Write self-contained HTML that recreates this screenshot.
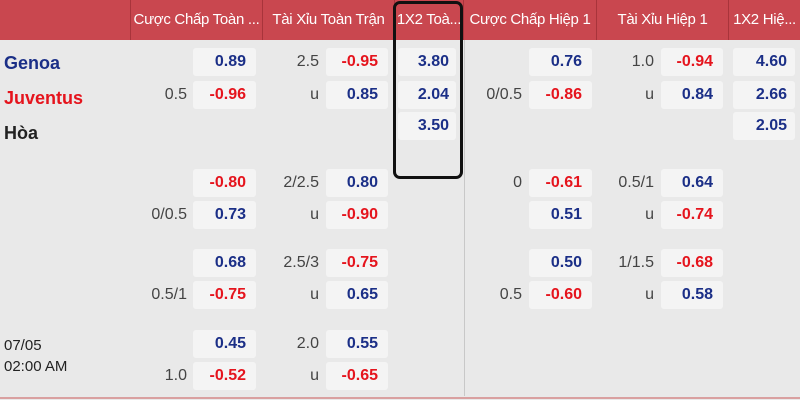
<!DOCTYPE html>
<html><head><meta charset="utf-8"><style>
body{margin:0;width:800px;height:400px;overflow:hidden;background:#e9e9e9;font-family:"Liberation Sans",sans-serif;position:relative}
.hd{position:absolute;top:0;left:0;width:800px;height:40px;background:#c9474f}
.h{position:absolute;top:0;height:40px;line-height:40px;color:#fff;font-size:15px;letter-spacing:-0.3px;text-align:center;white-space:nowrap;overflow:hidden}
.sep{position:absolute;top:0;width:1px;height:40px;background:#a8343b}
.b{position:absolute;height:28px;line-height:28px;background:#f4f4f4;border-radius:3px;font-weight:bold;font-size:16px;text-align:right;box-sizing:border-box;padding-right:10px}
.n{color:#1b2f87}.r{color:#e5141d}
.l{position:absolute;height:28px;line-height:28px;font-size:16px;color:#444;text-align:right}
.t{position:absolute;left:4px;font-weight:bold;font-size:18px}
</style></head><body>
<div class="hd"></div>
<div class="sep" style="left:130px"></div><div class="sep" style="left:262px"></div><div class="sep" style="left:394px"></div><div class="sep" style="left:463px"></div><div class="sep" style="left:596px"></div><div class="sep" style="left:728px"></div>
<div class="h" style="left:131px;width:131px">Cược Chấp Toàn ...</div>
<div class="h" style="left:263px;width:131px">Tài Xỉu Toàn Trận</div>
<div class="h" style="left:395px;width:68px">1X2 Toà...</div>
<div class="h" style="left:464px;width:132px">Cược Chấp Hiệp 1</div>
<div class="h" style="left:597px;width:131px">Tài Xỉu Hiệp 1</div>
<div class="h" style="left:729px;width:71px">1X2 Hiệ...</div>
<div style="position:absolute;left:464px;top:40px;width:1px;height:356px;background:#c8c8c8"></div>
<div style="position:absolute;left:0;top:397px;width:800px;height:2px;background:#d9a0a0"></div>

<div class="t" style="top:53px;color:#1b2f87">Genoa</div>
<div class="t" style="top:88px;color:#e5141d">Juventus</div>
<div class="t" style="top:123px;color:#222">Hòa</div>
<div style="position:absolute;left:4px;top:335px;font-size:15px;color:#222;line-height:21px">07/05<br>02:00 AM</div>

<div class="b n" style="left:193px;top:48px;width:63px">0.89</div>
<div class="l" style="left:120px;top:81px;width:67px">0.5</div><div class="b r" style="left:193px;top:81px;width:63px">-0.96</div>
<div class="l" style="left:250px;top:48px;width:69px">2.5</div><div class="b r" style="left:326px;top:48px;width:62px">-0.95</div>
<div class="l" style="left:250px;top:81px;width:69px">u</div><div class="b n" style="left:326px;top:81px;width:62px">0.85</div>
<div class="b n" style="left:398px;top:48px;width:58px;padding-right:7px">3.80</div>
<div class="b n" style="left:398px;top:81px;width:58px;padding-right:7px">2.04</div>
<div class="b n" style="left:398px;top:112px;width:58px;padding-right:7px">3.50</div>
<div class="b n" style="left:529px;top:48px;width:63px">0.76</div>
<div class="l" style="left:460px;top:81px;width:62px">0/0.5</div><div class="b r" style="left:529px;top:81px;width:63px">-0.86</div>
<div class="l" style="left:590px;top:48px;width:64px">1.0</div><div class="b r" style="left:661px;top:48px;width:62px">-0.94</div>
<div class="l" style="left:590px;top:81px;width:64px">u</div><div class="b n" style="left:661px;top:81px;width:62px">0.84</div>
<div class="b n" style="left:733px;top:48px;width:62px;padding-right:8px">4.60</div>
<div class="b n" style="left:733px;top:81px;width:62px;padding-right:8px">2.66</div>
<div class="b n" style="left:733px;top:112px;width:62px;padding-right:8px">2.05</div>

<div class="b r" style="left:193px;top:169px;width:63px">-0.80</div>
<div class="l" style="left:120px;top:201px;width:67px">0/0.5</div><div class="b n" style="left:193px;top:201px;width:63px">0.73</div>
<div class="l" style="left:250px;top:169px;width:69px">2/2.5</div><div class="b n" style="left:326px;top:169px;width:62px">0.80</div>
<div class="l" style="left:250px;top:201px;width:69px">u</div><div class="b r" style="left:326px;top:201px;width:62px">-0.90</div>
<div class="l" style="left:460px;top:169px;width:62px">0</div><div class="b r" style="left:529px;top:169px;width:63px">-0.61</div>
<div class="b n" style="left:529px;top:201px;width:63px">0.51</div>
<div class="l" style="left:590px;top:169px;width:64px">0.5/1</div><div class="b n" style="left:661px;top:169px;width:62px">0.64</div>
<div class="l" style="left:590px;top:201px;width:64px">u</div><div class="b r" style="left:661px;top:201px;width:62px">-0.74</div>

<div class="b n" style="left:193px;top:249px;width:63px">0.68</div>
<div class="l" style="left:120px;top:281px;width:67px">0.5/1</div><div class="b r" style="left:193px;top:281px;width:63px">-0.75</div>
<div class="l" style="left:250px;top:249px;width:69px">2.5/3</div><div class="b r" style="left:326px;top:249px;width:62px">-0.75</div>
<div class="l" style="left:250px;top:281px;width:69px">u</div><div class="b n" style="left:326px;top:281px;width:62px">0.65</div>
<div class="b n" style="left:529px;top:249px;width:63px">0.50</div>
<div class="l" style="left:460px;top:281px;width:62px">0.5</div><div class="b r" style="left:529px;top:281px;width:63px">-0.60</div>
<div class="l" style="left:590px;top:249px;width:64px">1/1.5</div><div class="b r" style="left:661px;top:249px;width:62px">-0.68</div>
<div class="l" style="left:590px;top:281px;width:64px">u</div><div class="b n" style="left:661px;top:281px;width:62px">0.58</div>

<div class="b n" style="left:193px;top:330px;width:63px">0.45</div>
<div class="l" style="left:120px;top:362px;width:67px">1.0</div><div class="b r" style="left:193px;top:362px;width:63px">-0.52</div>
<div class="l" style="left:250px;top:330px;width:69px">2.0</div><div class="b n" style="left:326px;top:330px;width:62px">0.55</div>
<div class="l" style="left:250px;top:362px;width:69px">u</div><div class="b r" style="left:326px;top:362px;width:62px">-0.65</div>

<div style="position:absolute;left:393px;top:1px;width:64px;height:172px;border:3px solid #111;border-radius:7px"></div>
</body></html>
